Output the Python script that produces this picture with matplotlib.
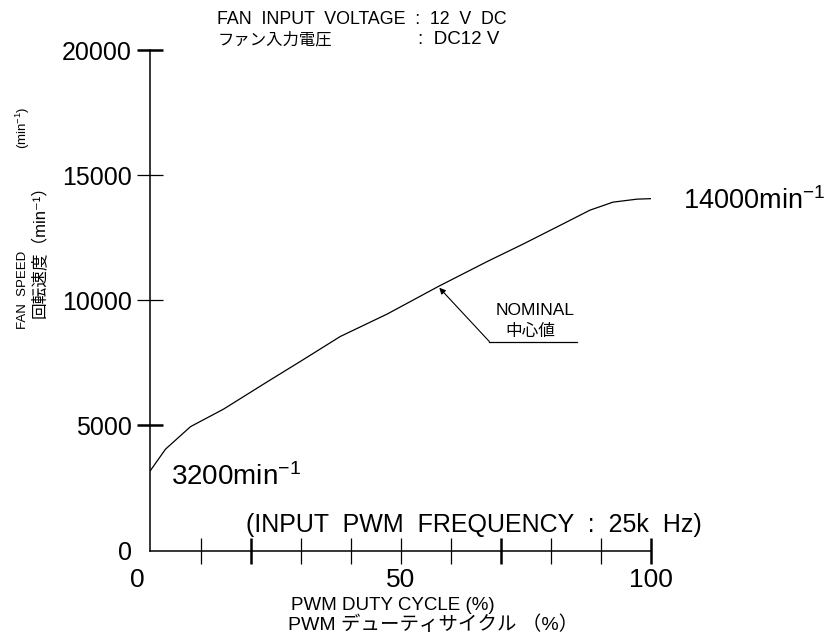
import matplotlib
matplotlib.use('Agg')
import matplotlib.pyplot as plt
from matplotlib.transforms import ScaledTranslation

plt.rcParams['mathtext.fontset'] = 'custom'
plt.rcParams['mathtext.rm'] = 'Liberation Sans'
plt.rcParams['mathtext.it'] = 'Liberation Sans'

FONT = ['Liberation Sans', 'Noto Sans CJK JP', 'DejaVu Sans']

# data
duty = [0, 3, 8, 14.6, 23.4, 29.9, 37.9, 47.3, 57.5, 67.3, 74.5, 82.4, 87.8, 92.4, 97.2, 100]
speed = [3200, 4050, 4950, 5650, 6750, 7550, 8550, 9450, 10550, 11550, 12250,
         13050, 13600, 13920, 14040, 14060]

x_ticks = [0, 10, 20, 30, 40, 50, 60, 70, 80, 90, 100]
x_labels = ['0', '', '', '', '', '50', '', '', '', '', '100']
x_thick = [20, 70, 100]
y_ticks = [0, 5000, 10000, 15000, 20000]
y_labels = ['0', '5000', '10000', '15000', '20000']
y_thick = [5000, 20000]

W, H = 828, 635
fig = plt.figure(figsize=(W / 100, H / 100), dpi=100)
ax = fig.add_axes([150.5 / W, (H - 550.5) / H, (651 - 150.5) / W, (550.5 - 50) / H])

ax.plot(duty, speed, color='black', lw=0.9)
ax.set_xlim(0, 100)
ax.set_ylim(0, 20000)

for s in ['top', 'right']:
    ax.spines[s].set_visible(False)
for s in ['left', 'bottom']:
    ax.spines[s].set_linewidth(1.1)

ax.set_xticks(x_ticks)
ax.set_xticklabels(x_labels)
ax.set_yticks(y_ticks)
ax.set_yticklabels(y_labels)
ax.tick_params(axis='x', direction='inout', length=19, width=0.9, pad=3, labelsize=19)
ax.tick_params(axis='y', direction='inout', length=19, width=0.9, pad=4, labelsize=18)
for lab in ax.get_xticklabels() + ax.get_yticklabels():
    lab.set_family(FONT)
# the "0" under the corner sits a bit to the left
x0 = ax.get_xticklabels()[0]
x0.set_transform(x0.get_transform() + ScaledTranslation(-0.13, 0, fig.dpi_scale_trans))

for t, v in zip(ax.xaxis.get_major_ticks(), x_ticks):
    if v == 0:
        t.tick1line.set_visible(False)
    elif v in x_thick:
        t.tick1line.set_markeredgewidth(1.8)
for t, v in zip(ax.yaxis.get_major_ticks(), y_ticks):
    if v == 0:
        t.tick1line.set_visible(False)
    elif v in y_thick:
        t.tick1line.set_markeredgewidth(1.8)

# end point labels
ax.text(4.1, 2620, '3200min$^{-1}$', fontsize=20, family=FONT, va='baseline', ha='left')
ax.text(106.3, 13640, '14000min$^{-1}$', fontsize=19.5, family=FONT, va='baseline', ha='left',
        clip_on=False)

# nominal leader
ax.annotate('', xy=(57.7, 10500), xytext=(67.7, 8350),
            arrowprops=dict(arrowstyle='-|>', color='black', lw=0.8,
                            mutation_scale=9, shrinkA=0, shrinkB=0))
ax.plot([67.7, 85.2], [8350, 8350], color='black', lw=0.9)
ax.text(76.8, 9600, 'NOMINAL', fontsize=12.5, family=FONT, ha='center', va='center')
ax.text(75.8, 8770, '中心値', fontsize=12, family=FONT, ha='center', va='center')

ax.text(19, 1000, '(INPUT  PWM  FREQUENCY  :  25k  Hz)', fontsize=18, family=FONT,
        ha='left', va='center')


def ftext(x, y, s, **kw):
    fig.text(x / W, 1 - y / H, s, family=FONT, **kw)


ftext(217, 19, 'FAN  INPUT  VOLTAGE  :  12  V  DC', fontsize=12.8, ha='left', va='center')
ftext(218, 40, 'ファン入力電圧', fontsize=11.8, ha='left', va='center')
ftext(418, 40, ':  DC12 V', fontsize=13.5, ha='left', va='center')

ftext(23, 290, 'FAN  SPEED', fontsize=9.5, rotation=90, ha='center', va='center')
ftext(23, 128, '(min$^{-1}$)', fontsize=9.5, rotation=90, ha='center', va='center')
ftext(40, 248, '回転速度（min⁻¹）', fontsize=12, rotation=90, ha='center', va='center')

ftext(393, 605, 'PWM DUTY CYCLE (%)', fontsize=13.5, ha='center', va='center')
ftext(433, 625, 'PWM デューティサイクル （%）', fontsize=14, ha='center', va='center')

fig.savefig('out.png', dpi=100)
